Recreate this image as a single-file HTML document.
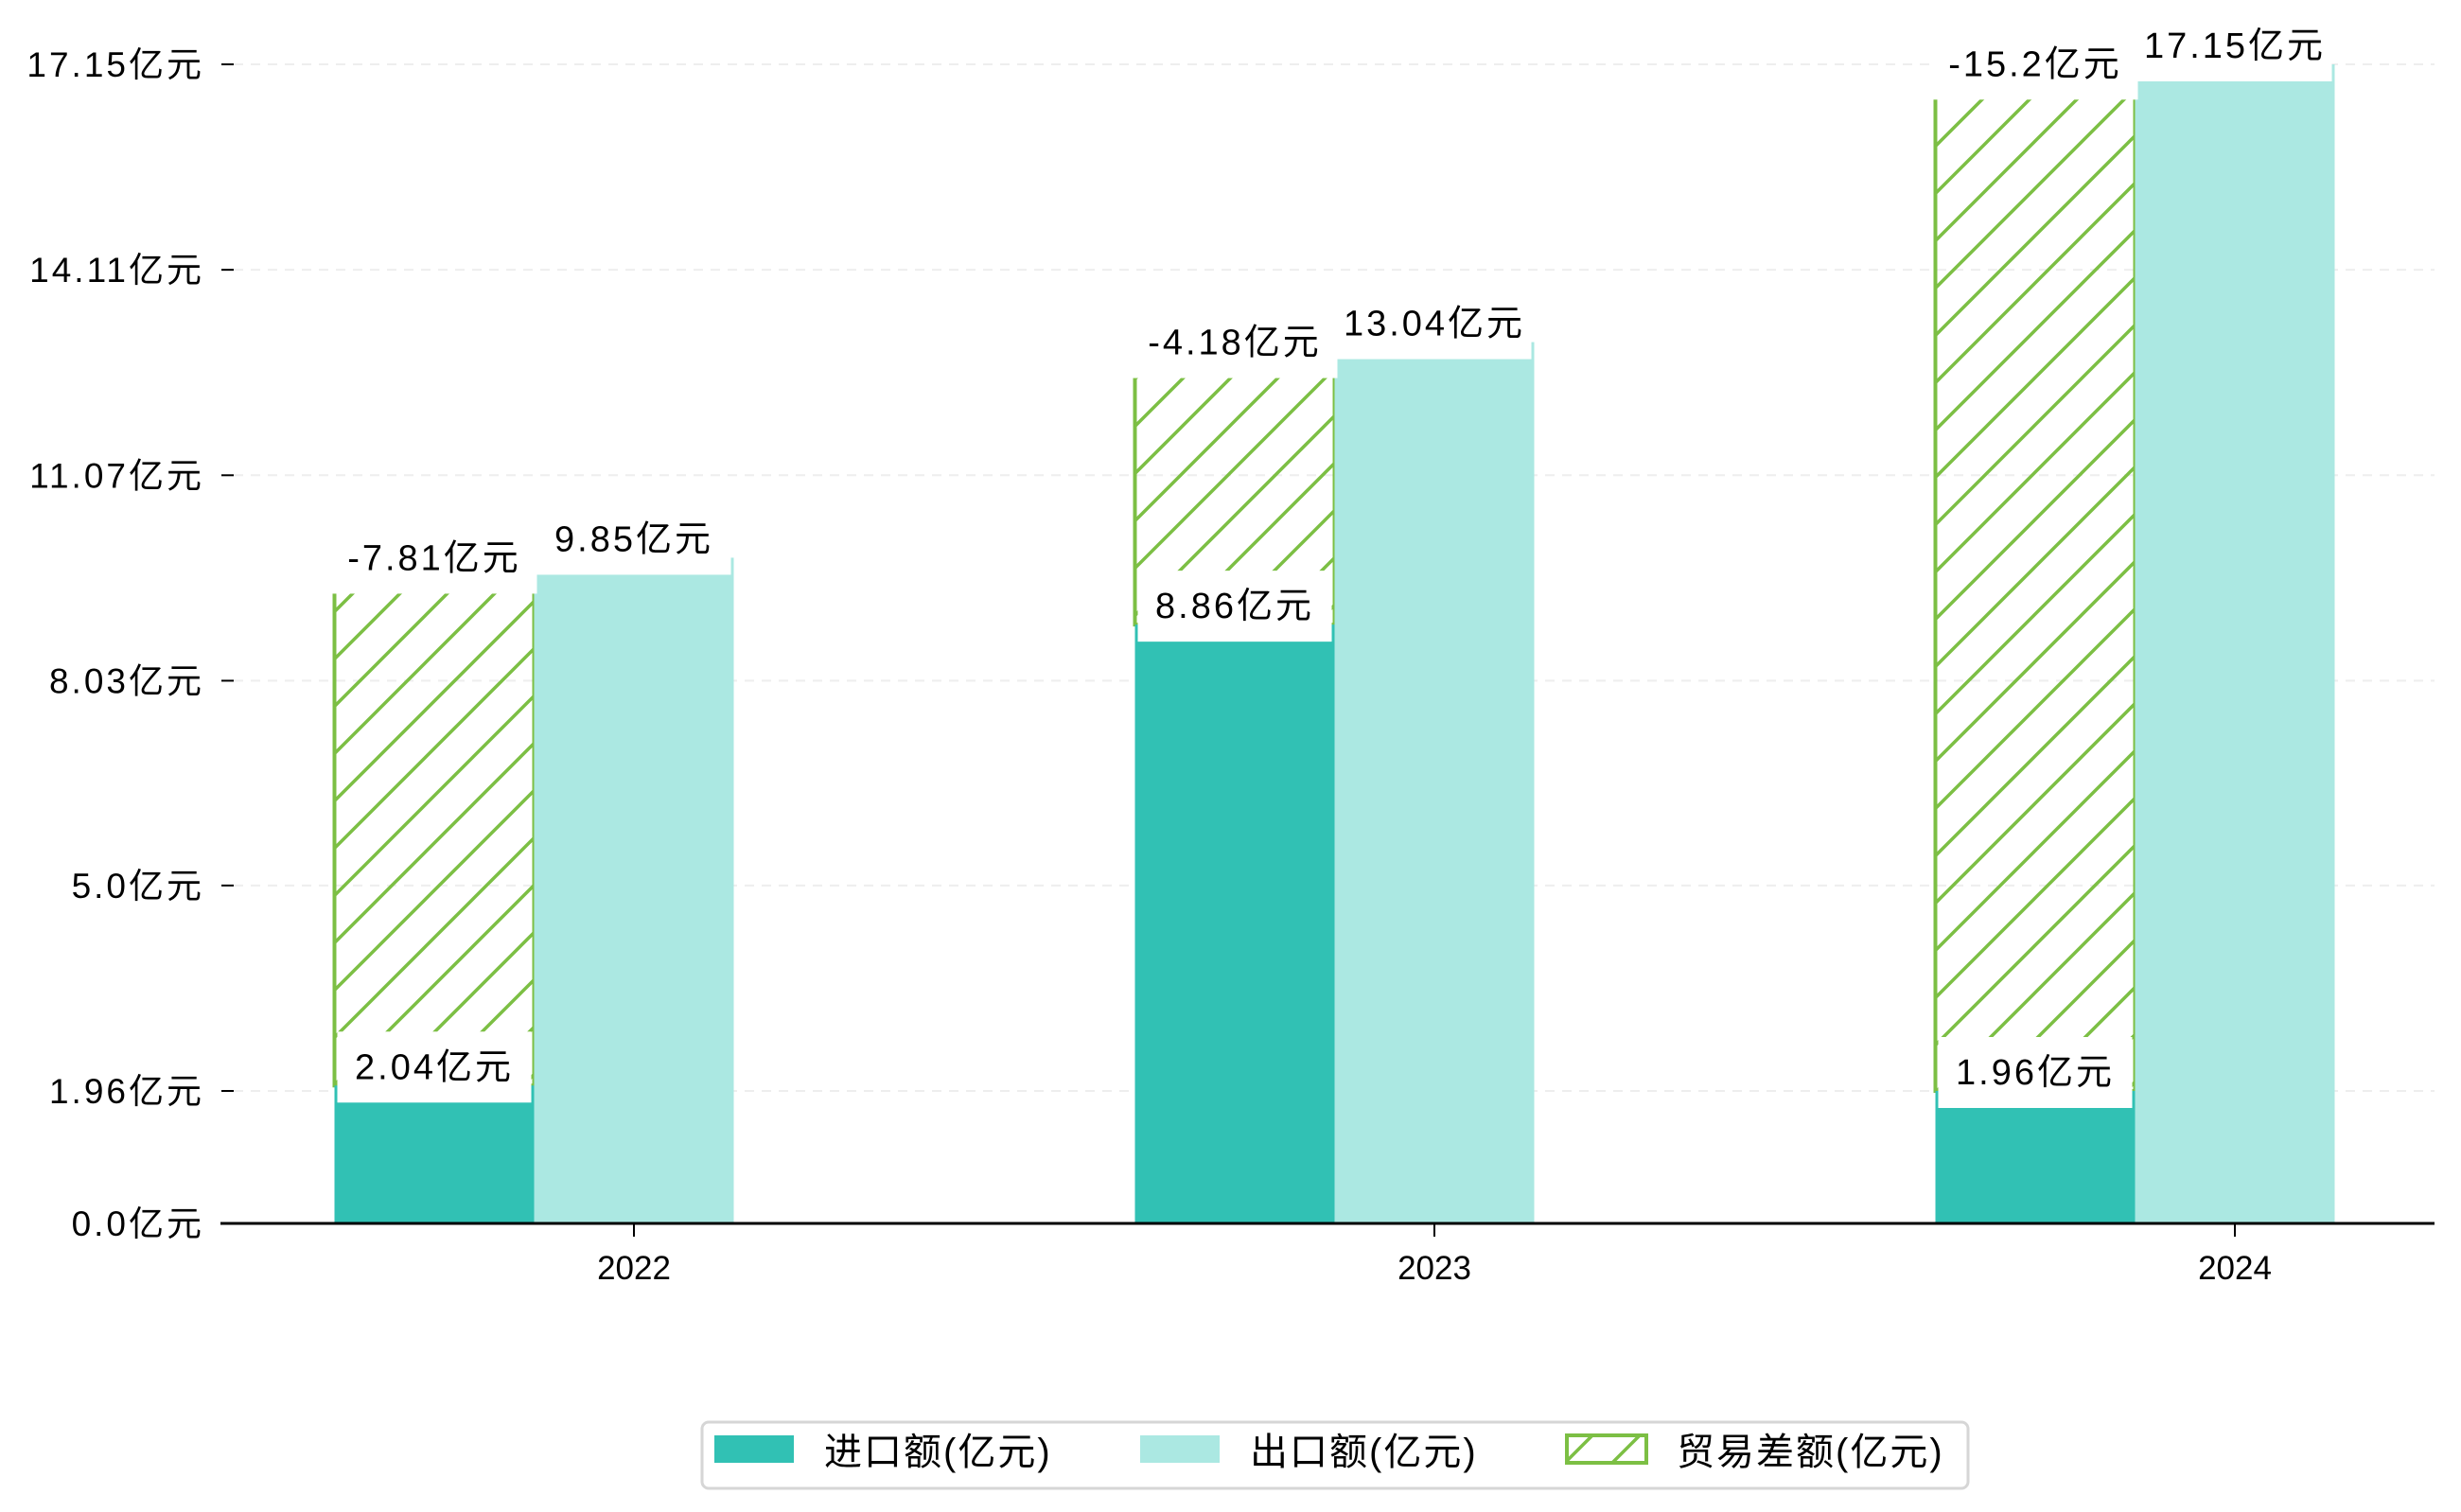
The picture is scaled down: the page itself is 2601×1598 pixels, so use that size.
<!DOCTYPE html>
<html><head><meta charset="utf-8"><style>
html,body{margin:0;padding:0;background:#fff;}
svg{display:block;}
text{font-family:"Liberation Sans","Noto Sans CJK SC",sans-serif;}
</style></head><body>
<svg id="chart" width="2601" height="1598" viewBox="0 0 2601 1598" xmlns="http://www.w3.org/2000/svg">
<defs>
<pattern id="hatch" patternUnits="userSpaceOnUse" width="50" height="50">
<line x1="-5" y1="55" x2="55" y2="-5" stroke="#7cbf44" stroke-width="3.5"/>
<line x1="-30" y1="30" x2="30" y2="-30" stroke="#7cbf44" stroke-width="3.5"/>
<line x1="20" y1="80" x2="80" y2="20" stroke="#7cbf44" stroke-width="3.5"/>
</pattern>
</defs>
<g id="grid"></g>
<g id="bars"></g>
<g id="labels"></g>
<g id="axes"></g>
<g id="legend"></g>
</svg>
<script>
const categories = ["2022", "2023", "2024"];
const importVals = [2.04, 8.86, 1.96];
const exportVals = [9.85, 13.04, 17.15];
const balanceVals = [-7.81, -4.18, -15.2];
const yTicks = [0, 1.96, 5.0, 8.03, 11.07, 14.11, 17.15];
const yTickLabels = ["0.0亿元", "1.96亿元", "5.0亿元", "8.03亿元", "11.07亿元", "14.11亿元", "17.15亿元"];

const NS = "http://www.w3.org/2000/svg";
const y0px = 1293, yMaxPx = 68, yMax = 17.15;
function y(v){ return y0px - v * (y0px - yMaxPx) / yMax; }
const c0 = 670, step = 846, bw = 211;
function x(i){ return c0 + i * step; }
function mk(tag, attrs, parent){ const e = document.createElementNS(NS, tag); for (const k in attrs) e.setAttribute(k, attrs[k]); parent.appendChild(e); return e; }

const grid = document.getElementById('grid'), bars = document.getElementById('bars'),
      labels = document.getElementById('labels'), axes = document.getElementById('axes'),
      legend = document.getElementById('legend');

yTicks.forEach((t, i) => {
  if (t > 0) {
    const g = mk('line', {x1: 247, x2: 2573, y1: y(t), y2: y(t), stroke: '#eeeeee', 'stroke-width': 2, 'stroke-dasharray': '10,8'}, grid);
    
    
  }
  const tk = mk('line', {x1: 234, x2: 247, y1: y(t), y2: y(t), stroke: '#000', 'stroke-width': 2}, axes);
  
  
  const tl = mk('text', {x: 216, y: y(t) + 13, 'text-anchor': 'end', 'font-size': 37, 'letter-spacing': 3, fill: '#000'}, axes);
  tl.textContent = yTickLabels[i];
  
  
});

function labelBox(cx, cy, txt, name, w){
  const r = mk('rect', {x: cx - w/2, y: cy - 37, width: w, height: 75, fill: '#fff'}, labels);
  
  
  const t = mk('text', {x: cx, y: cy + 13, 'text-anchor': 'middle', 'font-size': 38, 'letter-spacing': 3, fill: '#000'}, labels);
  t.textContent = txt;
  
  
}

categories.forEach((c, i) => {
  const cx = x(i);
  const imp = importVals[i], exp = exportVals[i], bal = balanceVals[i];
  const ix = cx - 1.5 * bw, ex = cx - 0.5 * bw;
  const top = imp + Math.abs(bal);
  const hb = mk('rect', {x: ix, y: y(top), width: bw, height: y(imp) - y(top), fill: 'url(#hatch)', stroke: '#7cbf44', 'stroke-width': 4}, bars);
  
  
  const ib = mk('rect', {x: ix, y: y(imp), width: bw, height: y(0) - y(imp), fill: '#31c1b4'}, bars);
  
  
  const eb = mk('rect', {x: ex, y: y(exp), width: bw, height: y(0) - y(exp), fill: '#abe8e2'}, bars);
  
  
  labelBox(ix + bw/2, y(top), bal + '亿元', 'balance-label-' + c, bw + 6);
  labelBox(ex + bw/2, y(exp) - 20, exp + '亿元', 'export-label-' + c, bw - 6);
  labelBox(ix + bw/2, y(imp) - 20, imp + '亿元', 'import-label-' + c, bw - 6);
  const xt = mk('line', {x1: cx, x2: cx, y1: y(0), y2: y(0) + 14, stroke: '#000', 'stroke-width': 2}, axes);
  
  
  const xl = mk('text', {x: cx, y: y(0) + 59, 'text-anchor': 'middle', 'font-size': 35, fill: '#000'}, axes);
  xl.textContent = c;
  
  
});

const ax = mk('line', {x1: 233, x2: 2573, y1: y(0), y2: y(0), stroke: '#000', 'stroke-width': 3}, axes);



const lb = mk('rect', {x: 742, y: 1503, width: 1338, height: 70, rx: 7, fill: '#fff', stroke: '#d6d6d6', 'stroke-width': 3}, legend);


const legendNames = ["进口额(亿元)", "出口额(亿元)", "贸易差额(亿元)"];
const legendFills = ['#31c1b4', '#abe8e2', 'url(#hatch)'];
const legendPx = [755, 1205, 1656];
legendNames.forEach((n, i) => {
  const p = mk('rect', {x: legendPx[i], y: 1517, width: 84, height: 29, fill: legendFills[i]}, legend);
  if (i === 2) { p.setAttribute('stroke', '#7cbf44'); p.setAttribute('stroke-width', 4); }
  
  
  const t = mk('text', {x: legendPx[i] + 116, y: 1548, 'font-size': 40, 'letter-spacing': 2, fill: '#000'}, legend);
  t.textContent = n;
  
  
});
</script>
</body></html>
